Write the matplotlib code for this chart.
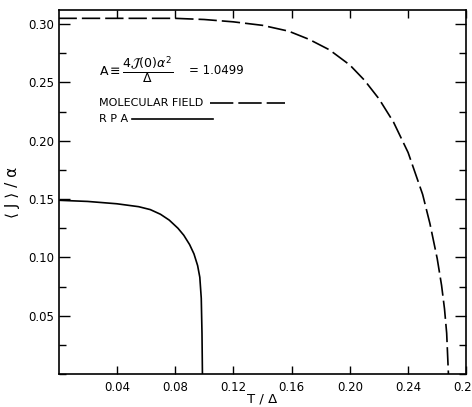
import numpy as np
import matplotlib
matplotlib.use('Agg')
import matplotlib.pyplot as plt
from matplotlib.ticker import MultipleLocator

plt.rcParams['font.family'] = ['DejaVu Sans']
plt.rcParams['mathtext.fontset'] = 'dejavusans'

# molecular field curve (dashed)
t_mf = [0.0, 0.04, 0.08, 0.10, 0.12, 0.14, 0.158, 0.172, 0.186, 0.20, 0.21,
        0.22, 0.23, 0.24, 0.25, 0.255, 0.26, 0.263, 0.265, 0.2665, 0.2677]
j_mf = [0.305, 0.305, 0.305, 0.304, 0.302, 0.299, 0.294, 0.287, 0.278, 0.265, 0.252,
        0.236, 0.216, 0.190, 0.154, 0.129, 0.099, 0.076, 0.056, 0.035, 0.0]

# RPA curve (solid)
t_rpa = [0.0, 0.02, 0.04, 0.055, 0.063, 0.07, 0.076, 0.082, 0.086, 0.09, 0.093,
         0.0955, 0.097, 0.098, 0.0985, 0.0988]
j_rpa = [0.149, 0.148, 0.146, 0.1435, 0.141, 0.137, 0.132, 0.125, 0.119, 0.111, 0.103,
         0.093, 0.083, 0.065, 0.035, 0.0]

xticks = [0.04, 0.08, 0.12, 0.16, 0.20, 0.24, 0.28]
xlabels = ['0.04', '0.08', '0.12', '0.16', '0.20', '0.24', '0.28']
yticks = [0.05, 0.10, 0.15, 0.20, 0.25, 0.30]
ylabels = ['0.05', '0.10', '0.15', '0.20', '0.25', '0.30']

fig = plt.figure(figsize=(4.72, 4.07), dpi=100)
ax = fig.add_axes([0.124, 0.081, 0.864, 0.894])

ax.plot(t_mf, j_mf, color='black', lw=1.2, dashes=(11, 3))
ax.plot(t_rpa, j_rpa, color='black', lw=1.2)

ax.set_xlim(0, 0.28)
ax.set_ylim(0, 0.312)

ax.set_xticks(xticks)
ax.set_xticklabels(xlabels, fontsize=8.5)
ax.set_yticks(yticks)
ax.set_yticklabels(ylabels, fontsize=8.5)
ax.yaxis.set_minor_locator(MultipleLocator(0.025))
ax.tick_params(axis='x', which='major', direction='in', length=6, width=1,
               top=True, bottom=True, pad=5)
ax.tick_params(axis='y', which='major', direction='in', length=8, width=1,
               left=True, right=True, pad=3)
ax.tick_params(axis='y', which='minor', direction='in', length=5, width=1,
               left=True, right=True)
for sp in ax.spines.values():
    sp.set_linewidth(1.2)

ax.set_xlabel('T / Δ', fontsize=9.5, labelpad=-1)
ax.set_ylabel('⟨ J ⟩ / α', fontsize=11, labelpad=6)

# annotation text and legend keys
ax.text(0.10, 0.835, r'$\mathrm{A} \equiv \dfrac{4\mathcal{J}(0)\alpha^2}{\Delta}$',
        transform=ax.transAxes, fontsize=9, va='center', ha='left')
ax.text(0.32, 0.835, '= 1.0499', transform=ax.transAxes, fontsize=8.5,
        va='center', ha='left')
ax.text(0.10, 0.745, 'MOLECULAR FIELD', transform=ax.transAxes, fontsize=8,
        va='center', ha='left')
ax.plot([0.371, 0.555], [0.745, 0.745], transform=ax.transAxes, color='black',
        lw=1.2, dashes=(14, 3))
ax.text(0.10, 0.70, 'R P A', transform=ax.transAxes, fontsize=8,
        va='center', ha='left')
ax.plot([0.18, 0.379], [0.70, 0.70], transform=ax.transAxes, color='black', lw=1.2)

fig.savefig('out.png', dpi=100)
